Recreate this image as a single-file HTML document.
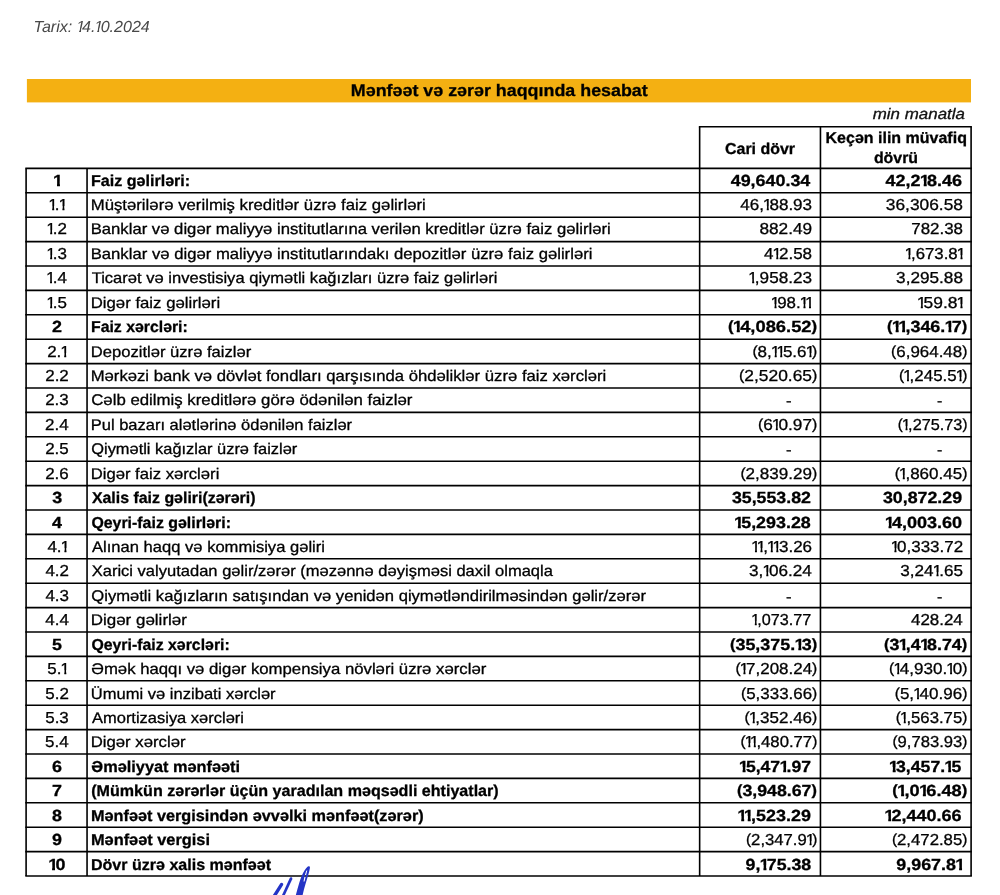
<!DOCTYPE html>
<html lang="az"><head><meta charset="utf-8"><title>Mənfəət və zərər haqqında hesabat</title>
<style>
html,body{margin:0;padding:0;background:#fff;}
body{width:1000px;height:895px;position:relative;overflow:hidden;font-family:"Liberation Sans",sans-serif;color:#000;text-rendering:geometricPrecision;}
.t{position:absolute;white-space:pre;transform-origin:0 0;display:block;will-change:transform;line-height:20px;-webkit-text-stroke:0.3px currentColor;}
.b{font-weight:700;}
.i{font-style:italic;}
.n{font-kerning:none;}
.o{display:inline-block;font-style:inherit;vertical-align:baseline;}
.n s{text-decoration:none;font-size:0.92em;position:relative;top:-0.045em;}
.sk{font-style:normal;transform:translateX(-0.07em) skewX(-11.5deg);transform-origin:0 75%;}
.o400{width:0.3271em;text-indent:-0.0664em;clip-path:polygon(0 0,100% 0,100% 50%,0.2872em 50%,0.2872em 100%,0.1713em 100%,0.1713em 50%,0 50%);}
.o700{width:0.3613em;text-indent:-0.0439em;clip-path:polygon(0 0,100% 0,100% 50%,0.3405em 50%,0.3405em 100%,0.1756em 100%,0.1756em 50%,0 50%);}
.grid{position:absolute;left:0;top:0;}
.sig{position:absolute;}
</style></head><body>

<svg class="grid" width="1000" height="895" viewBox="0 0 1000 895"><rect x="26.9" y="79" width="944.1" height="23.4" fill="#f4b012"/><g fill="none" stroke="#000" stroke-width="1.6">
<path d="M25.30 168.40H971.90"/>
<path d="M25.30 192.80H971.90"/>
<path d="M25.30 217.20H971.90"/>
<path d="M25.30 241.60H971.90"/>
<path d="M25.30 266.00H971.90"/>
<path d="M25.30 290.40H971.90"/>
<path d="M25.30 314.80H971.90"/>
<path d="M25.30 339.20H971.90"/>
<path d="M25.30 363.60H971.90"/>
<path d="M25.30 388.00H971.90"/>
<path d="M25.30 412.40H971.90"/>
<path d="M25.30 436.80H971.90"/>
<path d="M25.30 461.20H971.90"/>
<path d="M25.30 485.60H971.90"/>
<path d="M25.30 510.00H971.90"/>
<path d="M25.30 534.40H971.90"/>
<path d="M25.30 558.80H971.90"/>
<path d="M25.30 583.20H971.90"/>
<path d="M25.30 607.60H971.90"/>
<path d="M25.30 632.00H971.90"/>
<path d="M25.30 656.40H971.90"/>
<path d="M25.30 680.80H971.90"/>
<path d="M25.30 705.20H971.90"/>
<path d="M25.30 729.60H971.90"/>
<path d="M25.30 754.00H971.90"/>
<path d="M25.30 778.40H971.90"/>
<path d="M25.30 802.80H971.90"/>
<path d="M25.30 827.20H971.90"/>
<path d="M25.30 851.60H971.90"/>
<path d="M25.30 876.00H971.90"/>
<path d="M698.85 126.70H971.90"/>
<path d="M26.10 168.40V876.00"/>
<path d="M87.05 168.40V876.00"/>
<path d="M699.65 126.70V876.00"/>
<path d="M820.45 126.70V876.00"/>
<path d="M971.10 126.70V876.00"/>
</g></svg>
<span class="t b n" style="left:53px;top:171px;padding-left:0.77px;font-size:16.1px;transform:scaleX(1.1115);"><i class="o o700">1</i></span>
<span class="t b" style="left:90px;top:172px;padding-left:0.96px;font-size:15.8px;transform:scaleX(1.0181);">Faiz gəlirləri:</span>
<span class="t b n" style="left:730px;top:171px;padding-left:0.63px;font-size:16.1px;transform:scaleX(1.1121);">49,640.34</span>
<span class="t b n" style="left:885px;top:171px;padding-left:0.53px;font-size:16.1px;transform:scaleX(1.1171);">42,2<i class="o o700">1</i>8.46</span>
<span class="t n" style="left:49px;top:196px;padding-left:0.29px;font-size:15.85px;transform:scaleX(1.0700);"><i class="o o400">1</i>.<i class="o o400">1</i></span>
<span class="t" style="left:90px;top:196px;padding-left:0.63px;font-size:15.4px;transform:scaleX(1.0883);">Müştərilərə verilmiş kreditlər üzrə faiz gəlirləri</span>
<span class="t n" style="left:740px;top:196px;padding-left:0.16px;font-size:15.85px;transform:scaleX(1.0757);">46,<i class="o o400">1</i>88.93</span>
<span class="t n" style="left:885px;top:196px;padding-left:0.73px;font-size:15.85px;transform:scaleX(1.0948);">36,306.58</span>
<span class="t n" style="left:47px;top:220px;padding-left:0.31px;font-size:15.85px;transform:scaleX(1.0700);"><i class="o o400">1</i>.2</span>
<span class="t" style="left:90px;top:220px;padding-left:0.64px;font-size:15.4px;transform:scaleX(1.0838);">Banklar və digər maliyyə institutlarına verilən kreditlər üzrə faiz gəlirləri</span>
<span class="t n" style="left:759px;top:220px;padding-left:0.38px;font-size:15.85px;transform:scaleX(1.0881);">882.49</span>
<span class="t n" style="left:911px;top:220px;padding-left:0.28px;font-size:15.85px;transform:scaleX(1.0663);">782.38</span>
<span class="t n" style="left:47px;top:245px;padding-left:0.26px;font-size:15.85px;transform:scaleX(1.0700);"><i class="o o400">1</i>.3</span>
<span class="t" style="left:90px;top:245px;padding-left:0.64px;font-size:15.4px;transform:scaleX(1.0842);">Banklar və digər maliyyə institutlarındakı depozitlər üzrə faiz gəlirləri</span>
<span class="t n" style="left:763px;top:245px;padding-left:0.90px;font-size:15.85px;transform:scaleX(1.0732);">4<i class="o o400">1</i>2.58</span>
<span class="t n" style="left:905px;top:245px;padding-left:0.53px;font-size:15.85px;transform:scaleX(1.0584);"><i class="o o400">1</i>,673.8<i class="o o400">1</i></span>
<span class="t n" style="left:47px;top:269px;padding-left:0.15px;font-size:15.85px;transform:scaleX(1.0700);"><i class="o o400">1</i>.4</span>
<span class="t" style="left:91px;top:269px;padding-left:0.64px;font-size:15.4px;transform:scaleX(1.0749);">Ticarət və investisiya qiymətli kağızları üzrə faiz gəlirləri</span>
<span class="t n" style="left:749px;top:269px;padding-left:0.23px;font-size:15.85px;transform:scaleX(1.0826);"><i class="o o400">1</i>,958.23</span>
<span class="t n" style="left:896px;top:269px;padding-left:0.10px;font-size:15.85px;transform:scaleX(1.0841);">3,295.88</span>
<span class="t n" style="left:47px;top:294px;padding-left:0.25px;font-size:15.85px;transform:scaleX(1.0700);"><i class="o o400">1</i>.5</span>
<span class="t" style="left:90px;top:294px;padding-left:0.63px;font-size:15.4px;transform:scaleX(1.0891);">Digər faiz gəlirləri</span>
<span class="t n" style="left:771px;top:294px;padding-left:0.62px;font-size:15.85px;transform:scaleX(1.0651);"><i class="o o400">1</i>98.<i class="o o400">1</i><i class="o o400">1</i></span>
<span class="t n" style="left:917px;top:294px;padding-left:0.77px;font-size:15.85px;transform:scaleX(1.1005);"><i class="o o400">1</i>59.8<i class="o o400">1</i></span>
<span class="t b n" style="left:52px;top:317px;padding-left:0.06px;font-size:16.1px;transform:scaleX(1.1115);">2</span>
<span class="t b" style="left:90px;top:318px;padding-left:0.99px;font-size:15.8px;transform:scaleX(1.0019);">Faiz xərcləri:</span>
<span class="t b n" style="left:727px;top:317px;padding-left:0.82px;font-size:16.1px;transform:scaleX(1.1391);"><s>(</s><i class="o o700">1</i>4,086.52<s>)</s></span>
<span class="t b n" style="left:887px;top:317px;padding-left:0.04px;font-size:16.1px;transform:scaleX(1.1130);"><s>(</s><i class="o o700">1</i><i class="o o700">1</i>,346.<i class="o o700">1</i>7<s>)</s></span>
<span class="t n" style="left:47px;top:343px;padding-left:0.18px;font-size:15.85px;transform:scaleX(1.0700);">2.<i class="o o400">1</i></span>
<span class="t" style="left:90px;top:343px;padding-left:0.65px;font-size:15.4px;transform:scaleX(1.0791);">Depozitlər üzrə faizlər</span>
<span class="t n" style="left:752px;top:343px;padding-left:0.36px;font-size:15.85px;transform:scaleX(1.0733);"><s>(</s>8,<i class="o o400">1</i><i class="o o400">1</i>5.6<i class="o o400">1</i><s>)</s></span>
<span class="t n" style="left:891px;top:343px;padding-left:0.09px;font-size:15.85px;transform:scaleX(1.0687);"><s>(</s>6,964.48<s>)</s></span>
<span class="t n" style="left:45px;top:367px;padding-left:0.20px;font-size:15.85px;transform:scaleX(1.0700);">2.2</span>
<span class="t" style="left:90px;top:367px;padding-left:0.64px;font-size:15.4px;transform:scaleX(1.0840);">Mərkəzi bank və dövlət fondları qarşısında öhdəliklər üzrə faiz xərcləri</span>
<span class="t n" style="left:738px;top:367px;padding-left:0.89px;font-size:15.85px;transform:scaleX(1.0973);"><s>(</s>2,520.65<s>)</s></span>
<span class="t n" style="left:898px;top:367px;padding-left:0.84px;font-size:15.85px;transform:scaleX(1.0684);"><s>(</s><i class="o o400">1</i>,245.5<i class="o o400">1</i><s>)</s></span>
<span class="t n" style="left:45px;top:391px;padding-left:0.15px;font-size:15.85px;transform:scaleX(1.0700);">2.3</span>
<span class="t" style="left:91px;top:391px;padding-left:0.19px;font-size:15.4px;transform:scaleX(1.0915);">Cəlb edilmiş kreditlərə görə ödənilən faizlər</span>
<span class="t n" style="left:786px;top:392px;padding-left:0.01px;font-size:15.85px;transform:scaleX(1.0545);">-</span>
<span class="t n" style="left:936px;top:392px;padding-left:0.94px;font-size:15.85px;transform:scaleX(1.0065);">-</span>
<span class="t n" style="left:45px;top:416px;padding-left:0.03px;font-size:15.85px;transform:scaleX(1.0700);">2.4</span>
<span class="t" style="left:90px;top:416px;padding-left:0.66px;font-size:15.4px;transform:scaleX(1.0720);">Pul bazarı alətlərinə ödənilən faizlər</span>
<span class="t n" style="left:757px;top:416px;padding-left:0.90px;font-size:15.85px;transform:scaleX(1.0879);"><s>(</s>6<i class="o o400">1</i>0.97<s>)</s></span>
<span class="t n" style="left:897px;top:416px;padding-left:0.80px;font-size:15.85px;transform:scaleX(1.0263);"><s>(</s><i class="o o400">1</i>,275.73<s>)</s></span>
<span class="t n" style="left:45px;top:440px;padding-left:0.13px;font-size:15.85px;transform:scaleX(1.0700);">2.5</span>
<span class="t" style="left:91px;top:440px;padding-left:0.26px;font-size:15.4px;transform:scaleX(1.0659);">Qiymətli kağızlar üzrə faizlər</span>
<span class="t n" style="left:786px;top:441px;padding-left:0.01px;font-size:15.85px;transform:scaleX(1.0545);">-</span>
<span class="t n" style="left:936px;top:441px;padding-left:0.94px;font-size:15.85px;transform:scaleX(1.0065);">-</span>
<span class="t n" style="left:45px;top:465px;padding-left:0.15px;font-size:15.85px;transform:scaleX(1.0700);">2.6</span>
<span class="t" style="left:90px;top:465px;padding-left:0.64px;font-size:15.4px;transform:scaleX(1.0822);">Digər faiz xərcləri</span>
<span class="t n" style="left:740px;top:465px;padding-left:0.36px;font-size:15.85px;transform:scaleX(1.0773);"><s>(</s>2,839.29<s>)</s></span>
<span class="t n" style="left:894px;top:465px;padding-left:0.64px;font-size:15.85px;transform:scaleX(1.0731);"><s>(</s><i class="o o400">1</i>,860.45<s>)</s></span>
<span class="t b n" style="left:52px;top:488px;padding-left:0.13px;font-size:16.1px;transform:scaleX(1.1115);">3</span>
<span class="t b" style="left:91px;top:489px;padding-left:0.91px;font-size:15.8px;transform:scaleX(1.0068);">Xalis faiz gəliri(zərəri)</span>
<span class="t b n" style="left:731px;top:488px;padding-left:0.87px;font-size:16.1px;transform:scaleX(1.1030);">35,553.82</span>
<span class="t b n" style="left:882px;top:488px;padding-left:0.87px;font-size:16.1px;transform:scaleX(1.1051);">30,872.29</span>
<span class="t b n" style="left:51px;top:513px;padding-left:0.84px;font-size:16.1px;transform:scaleX(1.1115);">4</span>
<span class="t b" style="left:91px;top:514px;padding-left:0.40px;font-size:15.8px;transform:scaleX(1.0062);">Qeyri-faiz gəlirləri:</span>
<span class="t b n" style="left:734px;top:513px;padding-left:0.66px;font-size:16.1px;transform:scaleX(1.1108);"><i class="o o700">1</i>5,293.28</span>
<span class="t b n" style="left:885px;top:513px;padding-left:0.38px;font-size:16.1px;transform:scaleX(1.1209);"><i class="o o700">1</i>4,003.60</span>
<span class="t n" style="left:47px;top:538px;padding-left:0.39px;font-size:15.85px;transform:scaleX(1.0700);">4.<i class="o o400">1</i></span>
<span class="t" style="left:92px;top:538px;padding-left:0.03px;font-size:15.4px;transform:scaleX(1.0762);">Alınan haqq və kommisiya gəliri</span>
<span class="t n" style="left:752px;top:538px;padding-left:0.05px;font-size:15.85px;transform:scaleX(1.0732);"><i class="o o400">1</i><i class="o o400">1</i>,<i class="o o400">1</i><i class="o o400">1</i>3.26</span>
<span class="t n" style="left:891px;top:538px;padding-left:0.52px;font-size:15.85px;transform:scaleX(1.0700);"><i class="o o400">1</i>0,333.72</span>
<span class="t n" style="left:45px;top:562px;padding-left:0.42px;font-size:15.85px;transform:scaleX(1.0700);">4.2</span>
<span class="t" style="left:91px;top:562px;padding-left:0.64px;font-size:15.4px;transform:scaleX(1.0741);">Xarici valyutadan gəlir/zərər (məzənnə dəyişməsi daxil olmaqla</span>
<span class="t n" style="left:749px;top:562px;padding-left:0.10px;font-size:15.85px;transform:scaleX(1.0807);">3,<i class="o o400">1</i>06.24</span>
<span class="t n" style="left:900px;top:562px;padding-left:0.29px;font-size:15.85px;transform:scaleX(1.0792);">3,24<i class="o o400">1</i>.65</span>
<span class="t n" style="left:45px;top:587px;padding-left:0.37px;font-size:15.85px;transform:scaleX(1.0700);">4.3</span>
<span class="t" style="left:91px;top:587px;padding-left:0.25px;font-size:15.4px;transform:scaleX(1.0790);">Qiymətli kağızların satışından və yenidən qiymətləndirilməsindən gəlir/zərər</span>
<span class="t n" style="left:786px;top:588px;padding-left:0.01px;font-size:15.85px;transform:scaleX(1.0545);">-</span>
<span class="t n" style="left:936px;top:588px;padding-left:0.94px;font-size:15.85px;transform:scaleX(1.0065);">-</span>
<span class="t n" style="left:45px;top:611px;padding-left:0.25px;font-size:15.85px;transform:scaleX(1.0700);">4.4</span>
<span class="t" style="left:90px;top:611px;padding-left:0.61px;font-size:15.4px;transform:scaleX(1.1031);">Digər gəlirlər</span>
<span class="t n" style="left:752px;top:611px;padding-left:0.07px;font-size:15.85px;transform:scaleX(1.0214);"><i class="o o400">1</i>,073.77</span>
<span class="t n" style="left:910px;top:611px;padding-left:0.91px;font-size:15.85px;transform:scaleX(1.0680);">428.24</span>
<span class="t b n" style="left:51px;top:635px;padding-left:0.90px;font-size:16.1px;transform:scaleX(1.1115);">5</span>
<span class="t b" style="left:91px;top:636px;padding-left:0.40px;font-size:15.8px;transform:scaleX(1.0037);">Qeyri-faiz xərcləri:</span>
<span class="t b n" style="left:729px;top:635px;padding-left:0.85px;font-size:16.1px;transform:scaleX(1.1132);"><s>(</s>35,375.<i class="o o700">1</i>3<s>)</s></span>
<span class="t b n" style="left:883px;top:635px;padding-left:0.86px;font-size:16.1px;transform:scaleX(1.1075);"><s>(</s>3<i class="o o700">1</i>,4<i class="o o700">1</i>8.74<s>)</s></span>
<span class="t n" style="left:47px;top:660px;padding-left:0.26px;font-size:15.85px;transform:scaleX(1.0700);">5.<i class="o o400">1</i></span>
<span class="t" style="left:91px;top:660px;padding-left:0.27px;font-size:15.4px;transform:scaleX(1.0877);">Əmək haqqı və digər kompensiya növləri üzrə xərclər</span>
<span class="t n" style="left:735px;top:660px;padding-left:0.37px;font-size:15.85px;transform:scaleX(1.0697);"><s>(</s><i class="o o400">1</i>7,208.24<s>)</s></span>
<span class="t n" style="left:889px;top:660px;padding-left:0.08px;font-size:15.85px;transform:scaleX(1.0738);"><s>(</s><i class="o o400">1</i>4,930.<i class="o o400">1</i>0<s>)</s></span>
<span class="t n" style="left:45px;top:685px;padding-left:0.28px;font-size:15.85px;transform:scaleX(1.0700);">5.2</span>
<span class="t" style="left:90px;top:685px;padding-left:0.73px;font-size:15.4px;transform:scaleX(1.0752);">Ümumi və inzibati xərclər</span>
<span class="t n" style="left:740px;top:685px;padding-left:0.93px;font-size:15.85px;transform:scaleX(1.0687);"><s>(</s>5,333.66<s>)</s></span>
<span class="t n" style="left:894px;top:685px;padding-left:0.64px;font-size:15.85px;transform:scaleX(1.0731);"><s>(</s>5,<i class="o o400">1</i>40.96<s>)</s></span>
<span class="t n" style="left:45px;top:709px;padding-left:0.23px;font-size:15.85px;transform:scaleX(1.0700);">5.3</span>
<span class="t" style="left:92px;top:709px;padding-left:0.03px;font-size:15.4px;transform:scaleX(1.0701);">Amortizasiya xərcləri</span>
<span class="t n" style="left:744px;top:709px;padding-left:0.55px;font-size:15.85px;transform:scaleX(1.0731);"><s>(</s><i class="o o400">1</i>,352.46<s>)</s></span>
<span class="t n" style="left:895px;top:709px;padding-left:0.76px;font-size:15.85px;transform:scaleX(1.0565);"><s>(</s><i class="o o400">1</i>,563.75<s>)</s></span>
<span class="t n" style="left:45px;top:733px;padding-left:0.11px;font-size:15.85px;transform:scaleX(1.0700);">5.4</span>
<span class="t" style="left:90px;top:733px;padding-left:0.63px;font-size:15.4px;transform:scaleX(1.0882);">Digər xərclər</span>
<span class="t n" style="left:740px;top:733px;padding-left:0.38px;font-size:15.85px;transform:scaleX(1.0542);"><s>(</s><i class="o o400">1</i><i class="o o400">1</i>,480.77<s>)</s></span>
<span class="t n" style="left:892px;top:733px;padding-left:0.49px;font-size:15.85px;transform:scaleX(1.0487);"><s>(</s>9,783.93<s>)</s></span>
<span class="t b n" style="left:52px;top:757px;padding-left:0.02px;font-size:16.1px;transform:scaleX(1.1115);">6</span>
<span class="t b" style="left:91px;top:758px;padding-left:0.37px;font-size:15.8px;transform:scaleX(1.0317);">Əməliyyat mənfəəti</span>
<span class="t b n" style="left:739px;top:757px;padding-left:0.49px;font-size:16.1px;transform:scaleX(1.0941);"><i class="o o700">1</i>5,47<i class="o o700">1</i>.97</span>
<span class="t b n" style="left:889px;top:757px;padding-left:0.58px;font-size:16.1px;transform:scaleX(1.0974);"><i class="o o700">1</i>3,457.<i class="o o700">1</i>5</span>
<span class="t b n" style="left:52px;top:781px;padding-left:0.03px;font-size:16.1px;transform:scaleX(1.1115);">7</span>
<span class="t b" style="left:91px;top:782px;padding-left:0.25px;font-size:15.8px;transform:scaleX(1.0177);">(Mümkün zərərlər üçün yaradılan məqsədli ehtiyatlar)</span>
<span class="t b n" style="left:736px;top:781px;padding-left:0.86px;font-size:16.1px;transform:scaleX(1.1015);"><s>(</s>3,948.67<s>)</s></span>
<span class="t b n" style="left:892px;top:781px;padding-left:0.30px;font-size:16.1px;transform:scaleX(1.1307);"><s>(</s><i class="o o700">1</i>,0<i class="o o700">1</i>6.48<s>)</s></span>
<span class="t b n" style="left:52px;top:806px;padding-left:0.01px;font-size:16.1px;transform:scaleX(1.1115);">8</span>
<span class="t b" style="left:90px;top:807px;padding-left:0.94px;font-size:15.8px;transform:scaleX(1.0297);">Mənfəət vergisindən əvvəlki mənfəət(zərər)</span>
<span class="t b n" style="left:738px;top:806px;padding-left:0.12px;font-size:16.1px;transform:scaleX(1.1139);"><i class="o o700">1</i><i class="o o700">1</i>,523.29</span>
<span class="t b n" style="left:885px;top:806px;padding-left:0.12px;font-size:16.1px;transform:scaleX(1.1151);"><i class="o o700">1</i>2,440.66</span>
<span class="t b n" style="left:52px;top:830px;padding-left:0.04px;font-size:16.1px;transform:scaleX(1.1115);">9</span>
<span class="t b" style="left:90px;top:831px;padding-left:0.93px;font-size:15.8px;transform:scaleX(1.0350);">Mənfəət vergisi</span>
<span class="t n" style="left:746px;top:831px;padding-left:0.01px;font-size:15.85px;transform:scaleX(1.0520);"><s>(</s>2,347.9<i class="o o400">1</i><s>)</s></span>
<span class="t n" style="left:891px;top:831px;padding-left:0.85px;font-size:15.85px;transform:scaleX(1.0573);"><s>(</s>2,472.85<s>)</s></span>
<span class="t b n" style="left:48px;top:855px;padding-left:0.85px;font-size:16.1px;transform:scaleX(1.1115);"><i class="o o700">1</i>0</span>
<span class="t b" style="left:90px;top:856px;padding-left:0.96px;font-size:15.8px;transform:scaleX(1.0153);">Dövr üzrə xalis mənfəət</span>
<span class="t b n" style="left:745px;top:855px;padding-left:0.50px;font-size:16.1px;transform:scaleX(1.1025);">9,<i class="o o700">1</i>75.38</span>
<span class="t b n" style="left:896px;top:855px;padding-left:0.31px;font-size:16.1px;transform:scaleX(1.1107);">9,967.8<i class="o o700">1</i></span>
<span class="t i" style="left:33px;top:18px;padding-left:0.55px;font-size:16.0px;transform:scaleX(1.0047);color:#484848;-webkit-text-stroke:0;">Tarix: <i class="o o400 sk">1</i>4.<i class="o o400 sk">1</i>0.2024</span>
<span class="t b" style="left:350px;top:81px;padding-left:0.81px;font-size:16.7px;transform:scaleX(1.0707);">Mənfəət və zərər haqqında hesabat</span>
<span class="t i" style="left:872px;top:105px;padding-left:0.71px;font-size:15.3px;transform:scaleX(1.1056);color:#111;">min manatla</span>
<span class="t b" style="left:724px;top:140px;padding-left:0.99px;font-size:15.8px;transform:scaleX(1.0106);">Cari dövr</span>
<span class="t b" style="left:825px;top:129px;padding-left:0.57px;font-size:15.8px;transform:scaleX(1.0126);">Keçən ilin müvafiq</span>
<span class="t b" style="left:873px;top:149px;padding-left:0.89px;font-size:15.8px;transform:scaleX(1.0070);">dövrü</span>
<svg class="sig" width="60" height="40" viewBox="0 0 60 40" style="left:260px;top:860px">
<path fill="#2434c6" fill-rule="evenodd" d="M49.2 6.0L50.0 7.5C49.4 11 48.6 14 48.0 15.7C47.2 18.5 46.4 21 45.8 23L44.0 29.2L42.4 36L35.6 36L37.4 29.2C38 27 38.8 24.4 39.5 22C40.2 19.8 41 17.6 41.75 15.7C42.6 13.7 43.5 12 44.5 10.5C45.4 9.1 46.4 7.9 47.5 6.8ZM47.3 10.3L46.1 15L44.5 21.6L43.5 21.6L44.6 16L46.3 10.8Z"/>
<g fill="none" stroke="#2434c6" stroke-linecap="round">
<path d="M31.0 18.6L23.0 36" stroke-width="2.7"/>
<path d="M21.6 24.4L14.3 36" stroke-width="3.3"/>
</g></svg>
</body></html>
